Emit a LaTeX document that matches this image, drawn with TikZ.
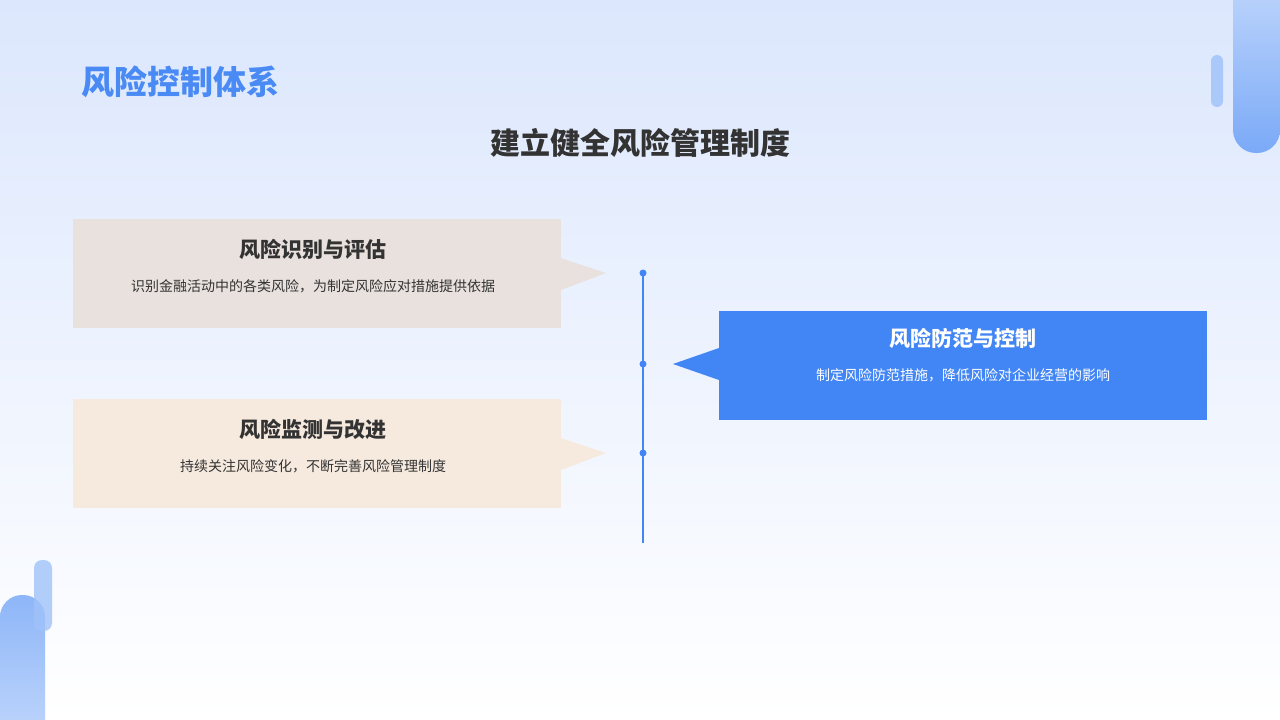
\documentclass[tikz,border=0pt]{standalone}
\usepackage{fontspec}
\setmainfont{Noto Sans CJK SC}
\usetikzlibrary{calc}
\definecolor{mblue}{HTML}{4285F4}
\definecolor{tblue}{HTML}{4A8AF4}
\definecolor{bgtop}{HTML}{DCE7FD}
\definecolor{boxa}{HTML}{E8E1DD}
\definecolor{boxb}{HTML}{F6EADF}
\definecolor{dark}{HTML}{333333}
\tikzset{
 boxtitle/.style={font=\fontsize{21}{24}\selectfont\bfseries, text=dark},
 boxtext/.style={font=\fontsize{14}{17}\selectfont, text=dark},
 dot/.style={circle, fill=mblue, inner sep=0pt, minimum size=7pt},
}
\begin{document}
\begin{tikzpicture}[x=1pt,y=-1pt]
\useasboundingbox (0,0) rectangle (1280,720);
\shade[top color=bgtop, bottom color=white] (0,0) rectangle (1280,720);
% decorations
\shade[top color=mblue!30, bottom color=mblue!70, rounded corners=23pt] (1233,-40) rectangle (1280,153);
\fill[mblue!45, rounded corners=6pt] (1211,55) rectangle (1223,107);
\shade[top color=mblue!60, bottom color=mblue!30, rounded corners=22pt] (0,595) rectangle (45,760);
\fill[mblue!50, opacity=0.8, rounded corners=8pt] (34,560) rectangle (52,631);
% titles
\node[font=\fontsize{33}{38}\selectfont\bfseries, text=tblue, anchor=west] (title) at (78,82) {风险控制体系};
\node[font=\fontsize{30}{34}\selectfont\bfseries, text=dark] (sub) at (640,143) {建立健全风险管理制度};
% boxes
\fill[boxa] (73,219) rectangle (561,328);
\fill[boxa] (561,258) -- (606,273) -- (561,290) -- cycle;
\node[boxtitle] (t1) at (313,249) {风险识别与评估};
\node[boxtext] (d1) at (313,286) {识别金融活动中的各类风险，为制定风险应对措施提供依据};
\fill[boxb] (73,399) rectangle (561,508);
\fill[boxb] (561,438) -- (606,453) -- (561,470) -- cycle;
\node[boxtitle] (t2) at (313,429) {风险监测与改进};
\node[boxtext] (d2) at (313,466) {持续关注风险变化，不断完善风险管理制度};
\fill[mblue] (719,311) rectangle (1207,420);
\fill[mblue] (719,348) -- (673,364) -- (719,380) -- cycle;
\node[boxtitle, text=white] (t3) at (963,338) {风险防范与控制};
\node[boxtext, text=white] (d3) at (963,375) {制定风险防范措施，降低风险对企业经营的影响};
% timeline
\coordinate (ltop) at (643,273);
\coordinate (lbot) at (643,543);
\draw[mblue, line width=2.5pt] (ltop) -- (lbot);
\node[dot] (p1) at (643,273) {};
\node[dot] (p2) at (643,364) {};
\node[dot] (p3) at (643,453) {};
\end{tikzpicture}
\end{document}
